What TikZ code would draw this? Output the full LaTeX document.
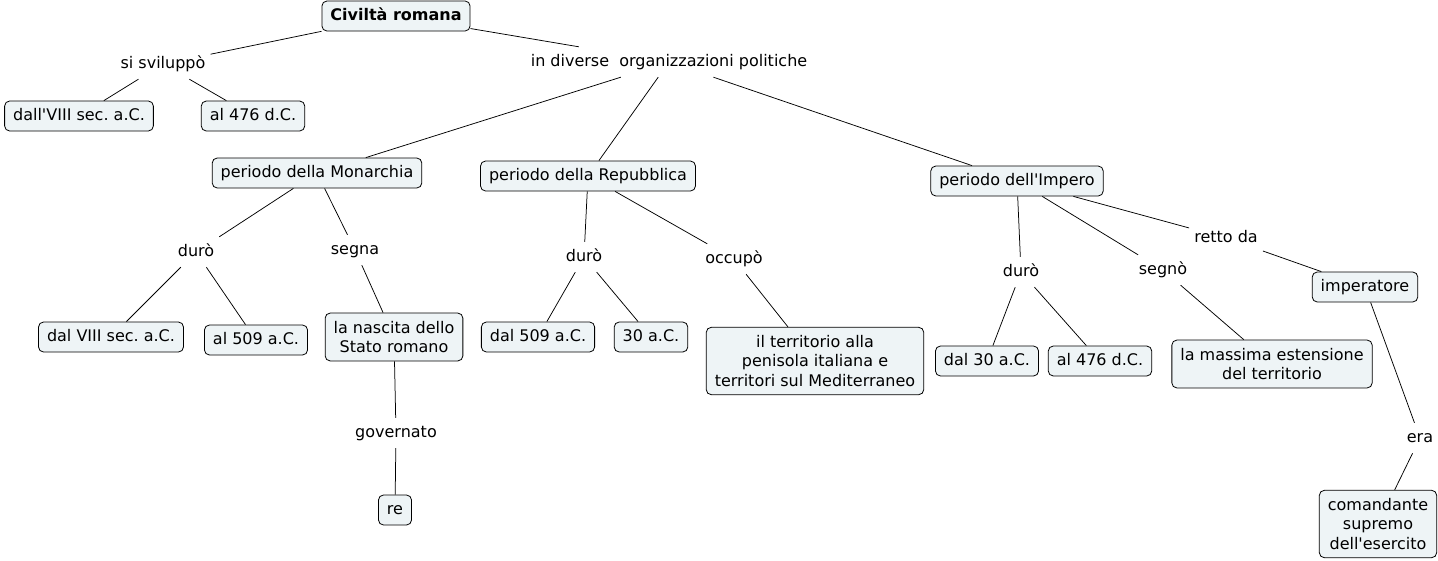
\documentclass[tikz,border=0pt]{standalone}
\usepackage{fontspec}
\newfontfamily\vfont{DejaVu Sans}
\definecolor{boxfill}{HTML}{EEF4F6}
\frenchspacing
\begin{document}
\begin{tikzpicture}[x=1pt,y=-1pt,
  box/.style={draw=black,line width=0.8pt,rounded corners=5pt,fill=boxfill,
    inner xsep=8.5pt,inner ysep=7pt,text height=12pt,text depth=4pt,
    font=\vfont\fontsize{16}{19.5}\selectfont\frenchspacing},
  mbox/.style={draw=black,line width=0.8pt,rounded corners=5pt,fill=boxfill,
    inner xsep=8.5pt,inner ysep=8pt,align=center,
    font=\vfont\fontsize{16}{19.5}\selectfont\frenchspacing},
  lbl/.style={inner xsep=5pt,inner ysep=7pt,text height=12pt,text depth=4pt,
    font=\vfont\fontsize{16}{19.5}\selectfont\frenchspacing},
  conn/.style={draw=black,line width=0.75pt}]
\useasboundingbox (0,0) rectangle (1438,560);
% boxes
\node[box,font=\vfont\fontsize{16}{19.5}\selectfont\bfseries] (civ) at (396,16) {Civiltà romana};
\node[lbl] (sisv) at (163,64) {si sviluppò};
\node[lbl] (indiv) at (669,62) {in diverse\ \ organizzazioni politiche};
\node[box] (dall) at (79,116) {dall'VIII sec. a.C.};
\node[box] (al476a) at (253,116) {al 476 d.C.};
\node[box] (mon) at (317,173) {periodo della Monarchia};
\node[box] (rep) at (588,176) {periodo della Repubblica};
\node[box] (imp) at (1017,181) {periodo dell'Impero};
\node[lbl] (duro1) at (196,252) {durò};
\node[lbl] (segna) at (355,250) {segna};
\node[box] (dal8) at (111,337) {dal VIII sec. a.C.};
\node[box] (al509) at (256,340) {al 509 a.C.};
\node[mbox] (nascita) at (394,337) {la nascita dello\\Stato romano};
\node[lbl] (gov) at (396,433) {governato};
\node[box] (re) at (395,510) {re};
\node[lbl] (duro2) at (584,257) {durò};
\node[lbl] (occ) at (734,259) {occupò};
\node[box] (dal509) at (538,337) {dal 509 a.C.};
\node[box] (a30) at (651,337) {30 a.C.};
\node[mbox] (terr) at (815,361) {il territorio alla\\penisola italiana e\\territori sul Mediterraneo};
\node[lbl] (duro3) at (1021,272) {durò};
\node[lbl] (segno) at (1163,270) {segnò};
\node[lbl] (retto) at (1226,238) {retto da};
\node[box] (imperatore) at (1365,287) {imperatore};
\node[box] (dal30) at (987,361) {dal 30 a.C.};
\node[box] (al476b) at (1100,361) {al 476 d.C.};
\node[mbox] (mass) at (1272,364) {la massima estensione\\del territorio};
\node[lbl] (era) at (1420,438) {era};
\node[mbox] (com) at (1378,524) {comandante\\supremo\\dell'esercito};
% connectors
\draw[conn] (civ) -- (sisv);
\draw[conn] (sisv) -- (dall);
\draw[conn] (sisv) -- (al476a);
\draw[conn] (civ) -- (indiv);
\draw[conn] (indiv) -- (mon);
\draw[conn] (indiv) -- (rep);
\draw[conn] (indiv) -- (imp);
\draw[conn] (mon) -- (duro1);
\draw[conn] (duro1) -- (dal8);
\draw[conn] (duro1) -- (al509);
\draw[conn] (mon) -- (segna);
\draw[conn] (segna) -- (nascita);
\draw[conn] (nascita) -- (gov);
\draw[conn] (gov) -- (re);
\draw[conn] (rep) -- (duro2);
\draw[conn] (duro2) -- (dal509);
\draw[conn] (duro2) -- (a30);
\draw[conn] (rep) -- (occ);
\draw[conn] (occ) -- (terr);
\draw[conn] (imp) -- (duro3);
\draw[conn] (duro3) -- (dal30);
\draw[conn] (duro3) -- (al476b);
\draw[conn] (imp) -- (segno);
\draw[conn] (segno) -- (mass);
\draw[conn] (imp) -- (retto);
\draw[conn] (retto) -- (imperatore);
\draw[conn] (imperatore) -- (era);
\draw[conn] (era) -- (com);
\end{tikzpicture}
\end{document}
